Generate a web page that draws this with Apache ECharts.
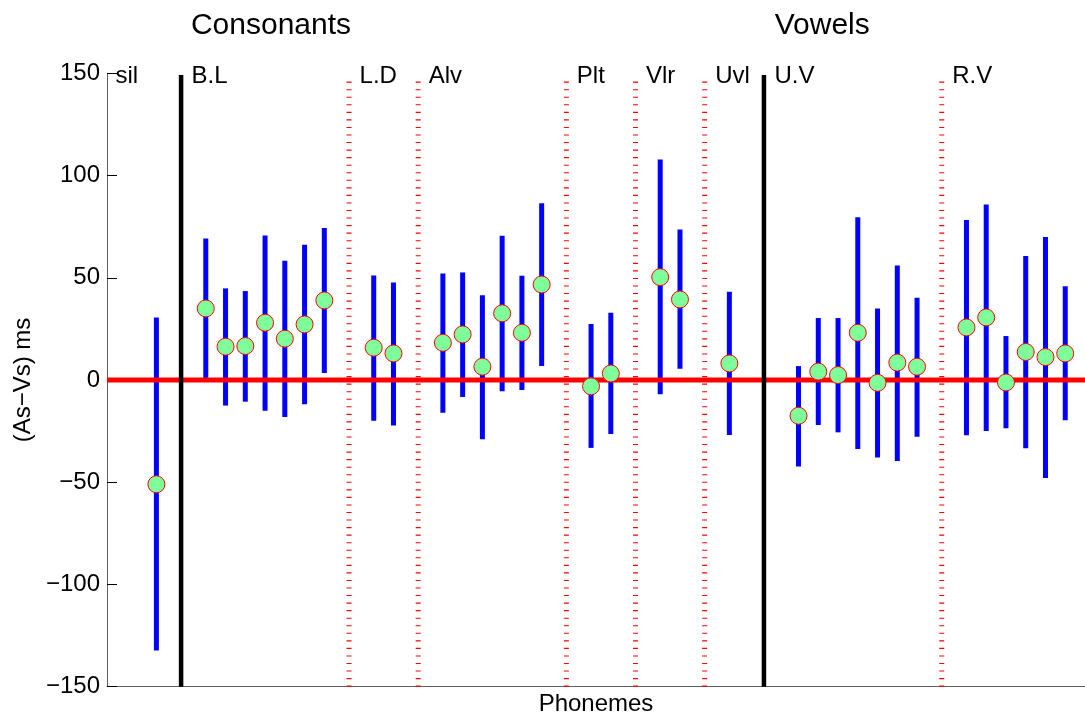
<!DOCTYPE html>
<html>
<head>
<meta charset="utf-8">
<script src="https://cdn.jsdelivr.net/npm/echarts@6/dist/echarts.min.js"></script>
<style>
html,body{margin:0;padding:0;background:#fff;overflow:hidden;}
#chart{position:absolute;left:0;top:0;width:1085px;height:716px;}
</style>
</head>
<body>
<div id="chart"></div>
<script>
// ---- data ----
const groupNames = ['sil','B.L','L.D','Alv','Plt','Vlr','Uvl','U.V','R.V'];
const groupLabelX = [-1.6, 2.25, 10.75, 14.25, 21.75, 25.25, 28.75, 31.75, 40.75];
const majorSeparators = [2.25, 31.75];
const minorSeparators = [10.75, 14.25, 21.75, 25.25, 28.75, 40.75];
const sectionTitles = ['Consonants', 'Vowels'];
const sectionTitleX = [6.8, 34.7];
const phonemeX = [1, 3.5,4.5,5.5,6.5,7.5,8.5,9.5, 12,13, 15.5,16.5,17.5,18.5,19.5,20.5, 23,24, 26.5,27.5, 30,
  33.5,34.5,35.5,36.5,37.5,38.5,39.5, 42,43,44,45,46,47];
const meanValues = [-51, 35,16.3,16.6,28,20.2,27.2,38.9, 15.8,13, 18.2,22.3,6.5,32.6,23.1,46.7, -3.1,3.2, 50.3,39.4, 8.1,
  -17.5,4.1,2.4,23.1,-1.4,8.5,6.5, 25.7,30.6,-1.2,13.7,11.2,13];
const upperValues = [30.6, 69.2,44.8,43.5,70.7,58.3,66.1,74.3, 51.1,47.7, 52.1,52.6,41.5,70.5,51,86.5, 27.4,32.9, 107.8,73.6, 43.2,
  6.8,30.3,30.3,79.6,35,56,40.2, 78.3,85.8,21.5,60.6,69.9,45.9];
const lowerValues = [-132.3, 0.6,-12.5,-10.6,-15,-18.1,-11.9,3.4, -19.9,-22.3, -16,-8.3,-29,-5.5,-4.9,6.8, -33.2,-26.4, -7,5.5, -26.9,
  -42.3,-22,-25.6,-33.7,-37.9,-39.6,-27.7, -27,-24.9,-23.6,-33.4,-47.9,-19.7];
const yTicks = [-150, -100, -50, 0, 50, 100, 150];

// ---- chart ----
const FONT = '"Liberation Sans", Arial, Helvetica, sans-serif';
const X_MIN = -1.5, X_MAX = 48, Y_MIN = -150, Y_MAX = 150;

const chart = echarts.init(document.getElementById('chart'), null, {renderer: 'canvas', width: 1085, height: 716});

const errData = phonemeX.map((x, i) => [x, lowerValues[i], upperValues[i]]);
const meanData = phonemeX.map((x, i) => [x, meanValues[i]]);

const series = [];

minorSeparators.forEach(x => {
  series.push({
    type: 'line', z: 1, silent: true, symbol: 'none', animation: false,
    data: [[x, Y_MIN], [x, 147]],
    lineStyle: {color: '#ff0000', width: 5, type: [1.1, 6.45], cap: 'butt'}
  });
});

series.push({
  type: 'custom', z: 2, silent: true, animation: false,
  data: errData,
  encode: {x: 0, y: [1, 2]},
  renderItem: function (params, api) {
    const x = api.value(0);
    const p1 = api.coord([x, api.value(1)]);
    const p2 = api.coord([x, api.value(2)]);
    return {
      type: 'line',
      shape: {x1: p1[0], y1: p1[1], x2: p2[0], y2: p2[1]},
      style: {stroke: '#0000ff', lineWidth: 5, lineCap: 'butt'}
    };
  }
});

series.push({
  type: 'line', z: 3, silent: true, symbol: 'none', animation: false,
  data: [[X_MIN, 0], [X_MAX, 0]],
  lineStyle: {color: '#ff0000', width: 5}
});

majorSeparators.forEach(x => {
  series.push({
    type: 'line', z: 4, silent: true, symbol: 'none', animation: false,
    data: [[x, Y_MIN], [x, 149.2]],
    lineStyle: {color: '#000000', width: 4.5, cap: 'butt'}
  });
});

series.push({
  type: 'scatter', z: 5, silent: true, animation: false,
  data: meanData,
  symbol: 'circle', symbolSize: 17,
  itemStyle: {color: '#7fff99', borderColor: '#ff0000', borderWidth: 1, opacity: 1}
});

series.push({
  type: 'scatter', z: 6, silent: true, animation: false,
  data: groupLabelX.map((x, i) => ({value: [x, Y_MAX], name: groupNames[i]})),
  symbolSize: 0,
  clip: false,
  itemStyle: {opacity: 1},
  label: {
    show: true, position: 'right', distance: 10.5, opacity: 1,
    formatter: p => p.name,
    color: '#000000', fontSize: 24, fontFamily: FONT, offset: [0, 3]
  }
});

// section titles placed above the plot, at data x positions
series.push({
  type: 'scatter', z: 6, silent: true, animation: false,
  data: sectionTitleX.map((x, i) => ({value: [x, Y_MAX], name: sectionTitles[i]})),
  symbolSize: 0,
  clip: false,
  itemStyle: {opacity: 1},
  label: {
    show: true, position: 'inside', offset: [0, -48], opacity: 1,
    formatter: p => p.name,
    color: '#000000', fontSize: 30, fontFamily: FONT
  }
});

chart.setOption({
  animation: false,
  backgroundColor: '#ffffff',
  grid: {left: 107, right: 0, top: 73.3, bottom: 29.3, containLabel: false, outerBoundsMode: 'none'},
  xAxis: {
    type: 'value', min: X_MIN, max: X_MAX,
    axisLine: {show: true, onZero: false, lineStyle: {color: '#606060', width: 1}},
    axisTick: {show: false}, axisLabel: {show: false}, splitLine: {show: false},
    name: 'Phonemes', nameLocation: 'middle', nameGap: 6,
    nameTextStyle: {fontSize: 24, color: '#000', fontFamily: FONT, verticalAlign: 'top'}
  },
  yAxis: {
    type: 'value', min: Y_MIN, max: Y_MAX, interval: 50,
    axisLine: {show: true, onZero: false, lineStyle: {color: '#606060', width: 1}},
    axisTick: {show: true, inside: true, length: 10, lineStyle: {color: '#000', width: 1}},
    axisLabel: {
      show: true, margin: 7, fontSize: 24, color: '#000', fontFamily: FONT,
      formatter: v => (yTicks.indexOf(v) >= 0 ? (v < 0 ? '\u2212' + Math.abs(v) : String(v)) : '')
    },
    splitLine: {show: false},
    name: '(As\u2212Vs) ms', nameLocation: 'middle', nameGap: 67, nameRotate: 90,
    nameTextStyle: {fontSize: 24, color: '#000', fontFamily: FONT}
  },
  series: series
});
</script>
</body>
</html>
